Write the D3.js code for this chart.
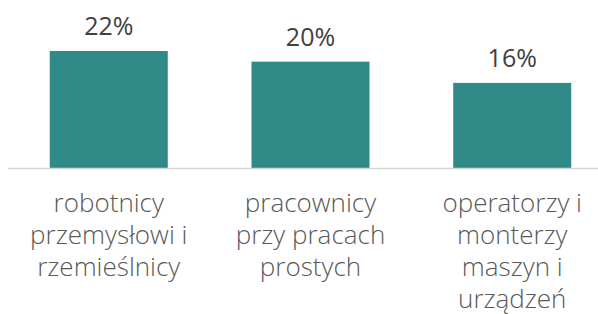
<!DOCTYPE html>
<html>
<head>
<meta charset="utf-8">
<script src="https://cdn.jsdelivr.net/npm/d3@7"></script>
<style>
  body { margin: 0; background: #fff; }
  svg { display: block; }
</style>
</head>
<body>
<div id="chart"></div>
<script>
// chart data
const categories = [
  ["robotnicy", "przemysłowi i", "rzemieślnicy"],
  ["pracownicy", "przy pracach", "prostych"],
  ["operatorzy i", "monterzy", "maszyn i", "urządzeń"]
];
const values = [22, 20, 16];
const valueLabels = ["22%", "20%", "16%"];

function main() {
    const width = 598, height = 314;
    const baseY = 168;

    const svg = d3.select("#chart").append("svg")
        .attr("width", width)
        .attr("height", height);

    // scales
    const x = d3.scaleBand()
        .domain(d3.range(values.length))
        .range([8, 613])
        .paddingInner(0.415)
        .paddingOuter(0.207);
    const y = d3.scaleLinear().domain([0, 22]).range([baseY, 51]);

    // bars
    svg.selectAll(".bar")
        .data(values)
        .enter()
        .append("rect")
        .attr("class", "bar")
        .attr("x", (d, i) => x(i))
        .attr("y", d => y(d))
        .attr("width", x.bandwidth())
        .attr("height", d => baseY - y(d))
        .attr("fill", "#308A88");

    // baseline
    svg.append("line")
        .attr("x1", 8).attr("x2", 598)
        .attr("y1", baseY + 0.5).attr("y2", baseY + 0.5)
        .attr("stroke", "#d9d9d9")
        .attr("stroke-width", 1.5);

    // value labels
    svg.selectAll(".val")
        .data(values)
        .enter()
        .append("text")
        .attr("class", "val")
        .attr("x", (d, i) => x(i) + x.bandwidth() / 2)
        .attr("y", d => y(d) - 16)
        .attr("text-anchor", "middle")
        .attr("font-family", "'Open Sans', sans-serif")
        .attr("font-weight", 500)
        .attr("font-size", 25)
        .attr("fill", "#404040")
        .text((d, i) => valueLabels[i]);

    // category labels
    const cat = svg.selectAll(".cat")
        .data(categories)
        .enter()
        .append("text")
        .attr("class", "cat")
        .attr("text-anchor", "middle")
        .attr("font-family", "'Open Sans', sans-serif")
        .attr("font-weight", 300)
        .attr("font-size", 26)
        .attr("fill", "#595959");

    cat.selectAll("tspan")
        .data((d, i) => d.map(t => ({ t, i })))
        .enter()
        .append("tspan")
        .attr("x", d => x(d.i) + x.bandwidth() / 2)
        .attr("y", (d, j) => 212 + j * 32)
        .text(d => d.t);
}

main();
</script>
</body>
</html>
